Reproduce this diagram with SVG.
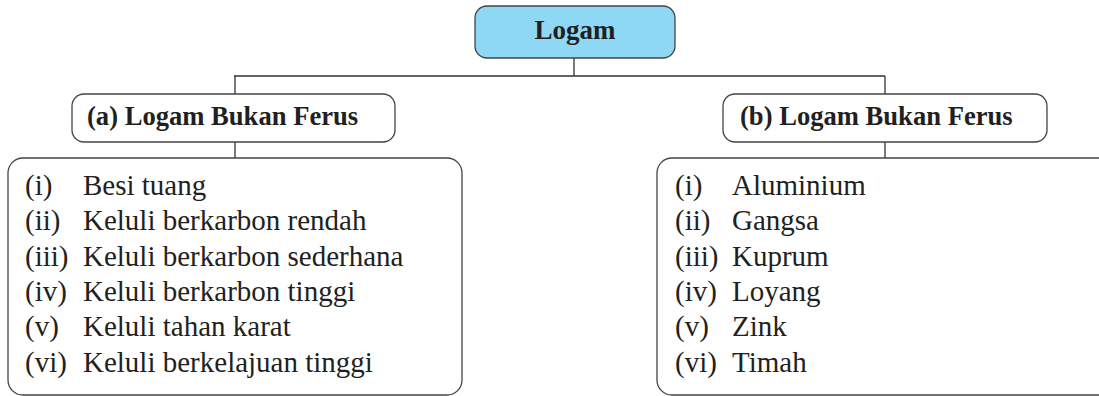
<svg xmlns="http://www.w3.org/2000/svg" width="1099" height="396" viewBox="0 0 1099 396">
  <style>
    .box { fill: #ffffff; stroke: #444444; stroke-width: 1.3; }
    .root { fill: #8ed8f6; stroke: #444444; stroke-width: 1.3; }
    .conn { stroke: #333333; stroke-width: 1.3; fill: none; }
    .title { font-family: "Liberation Serif", "Times New Roman", serif; font-weight: bold; fill: #231f20; }
    .item { font-family: "Liberation Serif", "Times New Roman", serif; font-size: 29px; fill: #231f20; }
  </style>
  <rect width="1099" height="396" fill="#ffffff"/>
  <g id="connectors">
    <path class="conn" d="M574 58 V76 M234 76 H885 M235 76 V94 M885 76 V94 M235 142 V158 M885 142 V158"/>
  </g>
  <g id="logam">
    <rect class="root" x="475" y="6" width="200" height="52" rx="12"/>
    <text class="title" x="575" y="39" font-size="27" text-anchor="middle">Logam</text>
  </g>
  <g id="ferus-a">
    <rect class="box" x="72" y="94" width="323" height="48" rx="12"/>
    <text class="title" x="87" y="125" font-size="26.6">(a) Logam Bukan Ferus</text>
  </g>
  <g id="ferus-b">
    <rect class="box" x="723" y="94" width="324" height="48" rx="12"/>
    <text class="title" x="740" y="125" font-size="26.6">(b) Logam Bukan Ferus</text>
  </g>
  <g id="list-a">
    <rect class="box" x="8" y="158" width="454" height="237" rx="15"/>
    <text class="item" x="25" y="195">(i)</text><text class="item" x="83" y="195">Besi tuang</text>
    <text class="item" x="25" y="230">(ii)</text><text class="item" x="83" y="230">Keluli berkarbon rendah</text>
    <text class="item" x="25" y="266">(iii)</text><text class="item" x="83" y="266">Keluli berkarbon sederhana</text>
    <text class="item" x="25" y="301">(iv)</text><text class="item" x="83" y="301">Keluli berkarbon tinggi</text>
    <text class="item" x="25" y="336">(v)</text><text class="item" x="83" y="336">Keluli tahan karat</text>
    <text class="item" x="25" y="372">(vi)</text><text class="item" x="83" y="372">Keluli berkelajuan tinggi</text>
  </g>
  <g id="list-b">
    <rect class="box" x="657" y="158" width="460" height="237" rx="15"/>
    <text class="item" x="675" y="195">(i)</text><text class="item" x="732" y="195">Aluminium</text>
    <text class="item" x="675" y="230">(ii)</text><text class="item" x="732" y="230">Gangsa</text>
    <text class="item" x="675" y="266">(iii)</text><text class="item" x="732" y="266">Kuprum</text>
    <text class="item" x="675" y="301">(iv)</text><text class="item" x="732" y="301">Loyang</text>
    <text class="item" x="675" y="336">(v)</text><text class="item" x="732" y="336">Zink</text>
    <text class="item" x="675" y="372">(vi)</text><text class="item" x="732" y="372">Timah</text>
  </g>
</svg>
